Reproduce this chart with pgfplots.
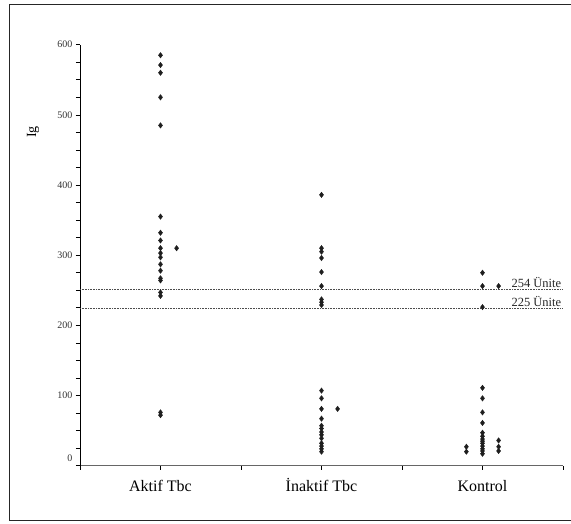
\documentclass[border=0pt]{standalone}
\usepackage{fontspec}
\setmainfont{Liberation Serif}
\usepackage{pgfplots}
\pgfplotsset{compat=1.18}
\definecolor{DotInk}{RGB}{30,30,30}
\begin{document}
\begin{tikzpicture}[x=1pt,y=1pt]
\useasboundingbox (-80,-57.3) rectangle (491,465.7);
\begin{axis}[
    at={(0,0)}, anchor=south west,
    scale only axis,
    width=483pt, height=421pt,
    xmin=0.5, xmax=3.5, ymin=0, ymax=600,
    axis lines*=left,
    x axis line style={black!60, line width=0.9pt},
    y axis line style={black, line width=0.7pt},
    xtick={1,2,3},
    xticklabels={Aktif Tbc, İnaktif Tbc, Kontrol},
    minor xtick={0.5,1.5,2.5,3.5},
    ytick={100,200,...,600},
    minor ytick={25,50,...,575},
    extra y ticks={0},
    extra y tick style={yticklabel style={yshift=7pt}},
    tick align=outside,
    major tick length=4pt, minor tick length=4pt,
    tick style={black, line width=0.7pt},
    /pgf/number format/assume math mode=true,
    xticklabel style={font=\fontsize{16}{18}\selectfont, anchor=base, yshift=-22pt},
    yticklabel style={font=\fontsize{10}{12}\selectfont, text=black!80},
    clip=false,
]
\addplot[only marks, mark=diamond*, mark size=2.7pt, color=DotInk] coordinates {
  (1,585) (1,571) (1,560) (1,525) (1,485) (1,355) (1,332) (1,321) (1,310)
  (1,303) (1,297) (1,287) (1,278) (1,267) (1,264) (1,247) (1,242) (1,76) (1,72)
  (1.1,310)
};
\addplot[only marks, mark=diamond*, mark size=2.7pt, color=DotInk] coordinates {
  (2,386) (2,310) (2,305) (2,296) (2,276) (2,256) (2,237) (2,233) (2,229)
  (2,107) (2,96) (2,81) (2,67) (2,57) (2,53) (2,48) (2,44) (2,39)
  (2,32) (2,28) (2,24) (2,20)
  (2.1,81)
};
\addplot[only marks, mark=diamond*, mark size=2.7pt, color=DotInk] coordinates {
  (3,275) (3,256) (3,226) (3,111) (3,96) (3,76) (3,61) (3,47) (3,42)
  (3,38) (3,35) (3,32) (3,28) (3,24) (3,21) (3,17)
  (2.9,27) (2.9,20)
  (3.1,256) (3.1,36) (3.1,27) (3.1,21)
};
\addplot[densely dotted, black!70, line width=0.6pt] coordinates {(0.5,252) (3.5,252)};
\addplot[densely dotted, black!70, line width=0.6pt] coordinates {(0.5,225) (3.5,225)};
\node[anchor=base east, font=\fontsize{12.5}{14}\selectfont, text=black!85, inner sep=0pt]
  at (axis cs:3.49,254) {254 Ünite};
\node[anchor=base east, font=\fontsize{12.5}{14}\selectfont, text=black!85, inner sep=0pt]
  at (axis cs:3.49,227) {225 Ünite};
\end{axis}
\node[rotate=90, font=\fontsize{14}{16}\selectfont] at (-47,333.7) {Ig};
\draw[black!85, line width=1.3pt] (491,461.3) -- (-70.5,461.3) -- (-70.5,-55) -- (491,-55);
\end{tikzpicture}
\end{document}
